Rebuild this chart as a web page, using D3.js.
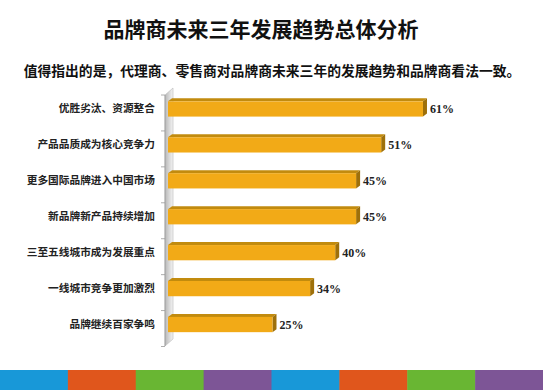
<!DOCTYPE html>
<html>
<head>
<meta charset="utf-8">
<script src="https://cdn.jsdelivr.net/npm/d3@7/dist/d3.min.js"></script>
<style>
  body { margin: 0; background: #fff; }
  svg { display: block; }
</style>
</head>
<body>
<div id="chart"></div>
<script>
// chart data
const categories = ["优胜劣汰、资源整合", "产品品质成为核心竞争力", "更多国际品牌进入中国市场",
    "新品牌新产品持续增加", "三至五线城市成为发展重点", "一线城市竞争更加激烈", "品牌继续百家争鸣"];
const values = [0.61, 0.51, 0.45, 0.45, 0.40, 0.34, 0.25];
const stripeColors = ["#1898d8", "#e0561c", "#69b633", "#7d5596", "#1898d8", "#e0561c", "#69b633", "#7d5596"];

const W = 543, H = 390;
const svg = d3.select("#chart").append("svg").attr("width", W).attr("height", H);
const cjk = "'Noto Sans CJK SC', 'Microsoft YaHei', sans-serif";

// titles
svg.append("text").attr("x", 261).attr("y", 28)
    .attr("text-anchor", "middle").attr("dominant-baseline", "central")
    .style("font-family", cjk).style("font-weight", "bold").style("font-size", "21px")
    .style("fill", "#111").text("品牌商未来三年发展趋势总体分析");

svg.append("text").attr("x", 272).attr("y", 70)
    .attr("text-anchor", "middle").attr("dominant-baseline", "central")
    .style("font-family", cjk).style("font-weight", "bold").style("font-size", "13.8px")
    .style("fill", "#111").text("值得指出的是，代理商、零售商对品牌商未来三年的发展趋势和品牌商看法一致。");

// scales
let x = d3.scaleLinear().domain([0, 0.7]).range([168, 168 + 4.18 * 70]);
let y = d3.scaleBand().domain(categories).range([90, 341.5]).paddingInner(0.52).paddingOuter(0.26);

// 3d wall on the left
const defs = svg.append("defs");
const grad = defs.append("linearGradient").attr("id", "wall").attr("x1", "0").attr("x2", "1");
grad.append("stop").attr("offset", "0").attr("stop-color", "#b8b8b8");
grad.append("stop").attr("offset", "1").attr("stop-color", "#f4f4f4");

const dx = 8, dy = 7;
const wallTop = 95, wallBottom = 346, wallX = 165;
svg.append("path")
    .attr("d", `M${wallX},${wallTop} L${wallX + dx},${wallTop - dy} L${wallX + dx},${wallBottom - dy} L${wallX},${wallBottom} Z`)
    .attr("fill", "url(#wall)").attr("stroke", "#bbb").attr("stroke-width", 0.6);
svg.append("line").attr("x1", wallX).attr("x2", wallX).attr("y1", wallTop).attr("y2", wallBottom)
    .attr("stroke", "#999").attr("stroke-width", 0.8);

// tick marks between categories
const step = y.step();
const ticks = d3.range(categories.length + 1).map(i => y.range()[0] + i * step);
svg.selectAll(".tk").data(ticks).enter().append("line")
    .attr("x1", wallX - 4).attr("x2", wallX)
    .attr("y1", d => d + 5).attr("y2", d => d + 5)
    .attr("stroke", "#999").attr("stroke-width", 0.8);

// bars
const bh = y.bandwidth() - 2;
const bdx = 4, bdy = 3;
const bars = svg.selectAll(".bar").data(categories).enter().append("g");

bars.append("path") // top face
    .attr("d", (d, i) => {
        const y0 = y(d) + 2, x0 = x(0), x1 = x(values[i]);
        return `M${x0},${y0} L${x0 + bdx},${y0 - bdy} L${x1 + bdx},${y0 - bdy} L${x1},${y0} Z`;
    })
    .attr("fill", "#c28b0e");

bars.append("path") // right side
    .attr("d", (d, i) => {
        const y0 = y(d) + 2, x1 = x(values[i]);
        return `M${x1},${y0} L${x1 + bdx},${y0 - bdy} L${x1 + bdx},${y0 + bh - bdy} L${x1},${y0 + bh} Z`;
    })
    .attr("fill", "#9e700a");

bars.append("rect") // front
    .attr("x", x(0)).attr("y", d => y(d) + 2)
    .attr("width", (d, i) => x(values[i]) - x(0)).attr("height", bh)
    .attr("fill", "#f2aa17");

// value labels
svg.selectAll(".val").data(categories).enter().append("text")
    .attr("x", (d, i) => x(values[i]) + bdx + 3)
    .attr("y", d => y(d) + 2 + bh / 2)
    .attr("dominant-baseline", "central")
    .style("font-family", "'Liberation Serif', 'Times New Roman', serif")
    .style("font-weight", "bold").style("font-size", "12px").style("fill", "#222")
    .text((d, i) => Math.round(values[i] * 100) + "%");

// category labels
svg.selectAll(".cat").data(categories).enter().append("text")
    .attr("x", 155).attr("y", d => y(d) + y.bandwidth() / 2)
    .attr("text-anchor", "end").attr("dominant-baseline", "central")
    .style("font-family", cjk).style("font-weight", "bold").style("font-size", "10.7px")
    .style("fill", "#222").text(d => d);

// bottom coloured stripe
const sw = W / stripeColors.length;
svg.selectAll(".stripe").data(stripeColors).enter().append("rect")
    .attr("x", (d, i) => i * sw).attr("y", 370)
    .attr("width", sw + 0.5).attr("height", 20)
    .attr("fill", d => d);
</script>
</body>
</html>
